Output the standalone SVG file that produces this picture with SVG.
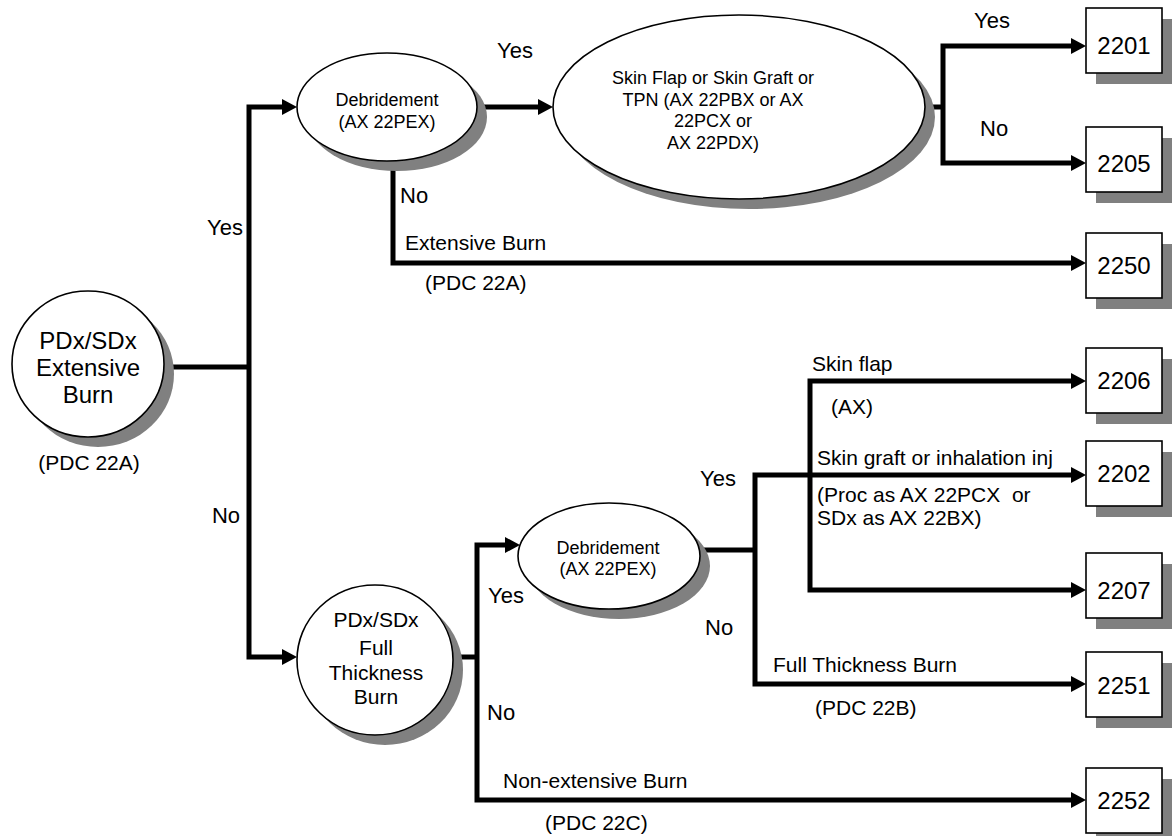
<svg xmlns="http://www.w3.org/2000/svg" width="1173" height="836" viewBox="0 0 1173 836">
<style>
text{font-family:"Liberation Sans",Arial,sans-serif;fill:#000}
.lbl{font-size:21px}
.yn{font-size:22px}
.ell{font-size:18px;text-anchor:middle}
.cir{font-size:24px;text-anchor:middle}
.cir2{font-size:21px;text-anchor:middle}
.num{font-size:24px;text-anchor:middle}
.sh{fill:#808080}
.shape{fill:#fff;stroke:#000;stroke-width:1.6}
.con{fill:none;stroke:#000;stroke-width:5;stroke-linejoin:miter}
.arr{marker-end:url(#ah)}
</style>
<defs>
<marker id="ah" markerUnits="userSpaceOnUse" markerWidth="16" markerHeight="16" refX="5" refY="8" orient="auto">
<path d="M0,0 L15,8 L0,16 z" fill="#000"/>
</marker>
</defs>
<rect width="1173" height="836" fill="#fff"/>
<g id="connectors">
<path class="con" d="M160,367 H249"/>
<path class="con arr" d="M249,367 V107 H287"/>
<path class="con arr" d="M249,367 V657 H287"/>
<path class="con arr" d="M478,107 H543"/>
<path class="con arr" d="M393,160 V263 H1076"/>
<path class="con" d="M920,107 H943"/>
<path class="con arr" d="M943,107 V46 H1076"/>
<path class="con arr" d="M943,107 V163 H1076"/>
<path class="con" d="M450,657 H477"/>
<path class="con arr" d="M477,657 V545 H510"/>
<path class="con arr" d="M477,657 V800 H1076"/>
<path class="con" d="M698,550 H755"/>
<path class="con arr" d="M755,550 V475 H1076"/>
<path class="con arr" d="M755,550 V684 H1076"/>
<path class="con arr" d="M810,475 V381 H1076"/>
<path class="con arr" d="M810,475 V590 H1076"/>
</g>
<g id="labels">
<text class="yn" x="243" y="235" text-anchor="end">Yes</text>
<text class="yn" x="240" y="523" text-anchor="end">No</text>
<text class="yn" x="497" y="58">Yes</text>
<text class="yn" x="400" y="203">No</text>
<text class="lbl" x="405" y="249.5">Extensive Burn</text>
<text class="lbl" x="425" y="289.5">(PDC 22A)</text>
<text class="yn" x="974" y="28">Yes</text>
<text class="yn" x="980" y="136">No</text>
<text class="yn" x="488" y="603">Yes</text>
<text class="yn" x="487" y="720">No</text>
<text class="lbl" x="503" y="787.5">Non-extensive Burn</text>
<text class="lbl" x="545" y="829.5">(PDC 22C)</text>
<text class="yn" x="700" y="486">Yes</text>
<text class="yn" x="705" y="635">No</text>
<text class="lbl" x="812" y="370.5">Skin flap</text>
<text class="lbl" x="831" y="413.5">(AX)</text>
<text class="lbl" x="817" y="464.5">Skin graft or inhalation inj</text>
<text class="lbl" x="817" y="501.5" xml:space="preserve">(Proc as AX 22PCX  or</text>
<text class="lbl" x="817" y="524.5">SDx as AX 22BX)</text>
<text class="lbl" x="773" y="671.5">Full Thickness Burn</text>
<text class="lbl" x="815" y="714.5">(PDC 22B)</text>
</g>
<g id="n-extensive">
<ellipse class="sh" cx="98" cy="374" rx="76" ry="73"/>
<ellipse class="shape" cx="88" cy="364" rx="76" ry="73"/>
<text class="cir" x="88" y="348.5">PDx/SDx</text>
<text class="cir" x="88" y="375.5">Extensive</text>
<text class="cir" x="88" y="402.5">Burn</text>
<text class="lbl" x="89" y="469.5" text-anchor="middle">(PDC 22A)</text>
</g>
<g id="n-debr1">
<ellipse class="sh" cx="397" cy="117" rx="90" ry="54"/>
<ellipse class="shape" cx="387" cy="107" rx="90" ry="54"/>
<text class="ell" x="387" y="106">Debridement</text>
<text class="ell" x="387" y="128">(AX 22PEX)</text>
</g>
<g id="n-skin">
<ellipse class="sh" cx="749" cy="117" rx="186" ry="92"/>
<ellipse class="shape" cx="739" cy="107" rx="186" ry="92"/>
<text class="ell" x="713" y="84">Skin Flap or Skin Graft or</text>
<text class="ell" x="713" y="106">TPN (AX 22PBX or AX</text>
<text class="ell" x="713" y="127">22PCX or</text>
<text class="ell" x="713" y="149">AX 22PDX)</text>
</g>
<g id="n-full">
<ellipse class="sh" cx="385" cy="670" rx="78" ry="75"/>
<ellipse class="shape" cx="375" cy="660" rx="78" ry="75"/>
<text class="cir2" x="376" y="627">PDx/SDx</text>
<text class="cir2" x="376" y="655">Full</text>
<text class="cir2" x="376" y="680">Thickness</text>
<text class="cir2" x="376" y="704">Burn</text>
</g>
<g id="n-debr2">
<ellipse class="sh" cx="619" cy="566" rx="91" ry="53"/>
<ellipse class="shape" cx="609" cy="556" rx="91" ry="53"/>
<text class="ell" x="608" y="554">Debridement</text>
<text class="ell" x="608" y="575">(AX 22PEX)</text>
</g>
<g id="b2201"><rect class="sh" x="1096" y="19" width="76" height="65"/><rect class="shape" x="1086" y="8" width="76" height="65"/><text class="num" x="1124" y="53.5">2201</text></g>
<g id="b2205"><rect class="sh" x="1096" y="138" width="76" height="65"/><rect class="shape" x="1086" y="127" width="76" height="65"/><text class="num" x="1124" y="171.5">2205</text></g>
<g id="b2250"><rect class="sh" x="1096" y="244" width="76" height="65"/><rect class="shape" x="1086" y="233" width="76" height="65"/><text class="num" x="1124" y="273.5">2250</text></g>
<g id="b2206"><rect class="sh" x="1096" y="359" width="76" height="65"/><rect class="shape" x="1086" y="348" width="76" height="65"/><text class="num" x="1124" y="388.5">2206</text></g>
<g id="b2202"><rect class="sh" x="1096" y="452" width="76" height="65"/><rect class="shape" x="1086" y="441" width="76" height="65"/><text class="num" x="1124" y="481.5">2202</text></g>
<g id="b2207"><rect class="sh" x="1096" y="564" width="76" height="65"/><rect class="shape" x="1086" y="553" width="76" height="65"/><text class="num" x="1124" y="598.5">2207</text></g>
<g id="b2251"><rect class="sh" x="1096" y="663" width="76" height="65"/><rect class="shape" x="1086" y="652" width="76" height="65"/><text class="num" x="1124" y="693.5">2251</text></g>
<g id="b2252"><rect class="sh" x="1096" y="779" width="76" height="65"/><rect class="shape" x="1086" y="768" width="76" height="65"/><text class="num" x="1124" y="808.5">2252</text></g>
</svg>
